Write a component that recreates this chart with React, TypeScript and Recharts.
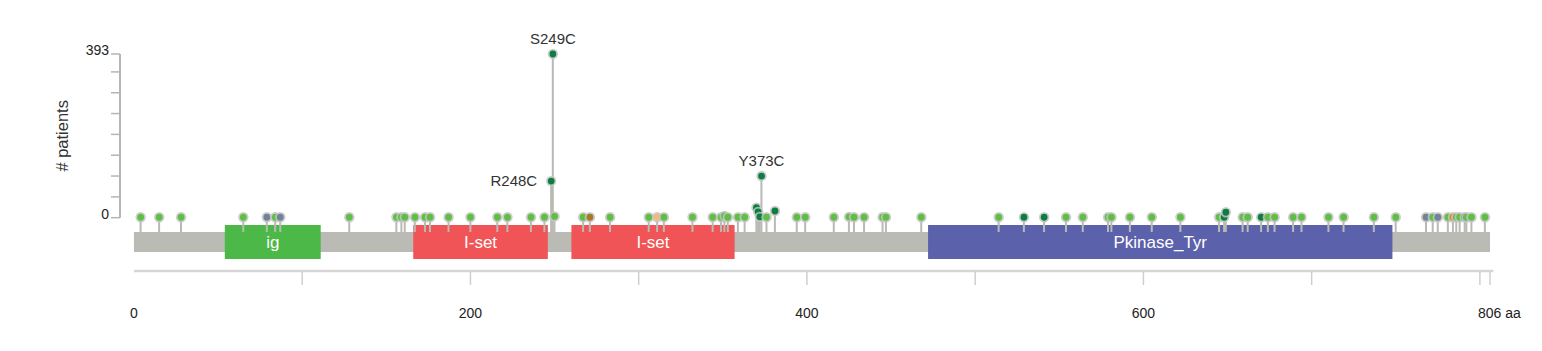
import React from 'react';
import {
  Bar,
  ComposedChart,
  ReferenceArea,
  ReferenceLine,
  Scatter,
  XAxis,
  YAxis,
} from 'recharts';

// Mutation positions (aa), patient counts and mutation class
const positions = [
  4, 15, 28, 65, 79, 84, 87, 128, 156, 159, 161, 167, 173, 176, 187, 200, 216, 222, 236, 244,
  248, 249, 250, 267, 271, 283, 306, 311, 315, 332, 344, 349, 351, 353, 359, 363, 370, 371, 372,
  373, 376, 381, 394, 399, 416, 425, 428, 434, 445, 447, 468, 514, 529, 541, 554, 564, 579, 581,
  592, 605, 622, 645, 648, 649, 659, 662, 670, 674, 678, 689, 694, 710, 719, 737, 750, 768, 772,
  775, 781, 784, 786, 788, 791, 792, 795, 803,
];
const counts = [
  1, 1, 1, 1, 1, 1, 1, 1, 1, 1, 1, 1, 1, 1, 1, 1, 1, 1, 1, 1,
  88, 393, 3, 1, 1, 1, 1, 1, 1, 1, 1, 1, 4, 1, 1, 1, 24, 14, 2,
  100, 1, 16, 1, 1, 1, 2, 1, 1, 1, 1, 1, 1, 1, 1, 1, 1, 1, 1,
  1, 1, 1, 1, 1, 13, 1, 1, 1, 1, 1, 1, 1, 1, 1, 1, 1, 1, 1,
  1, 1, 1, 1, 1, 1, 1, 1, 1,
];
const types = [
  'mis', 'mis', 'mis', 'mis', 'trc', 'mis', 'trc', 'mis', 'mis', 'mis', 'mis', 'mis', 'mis', 'mis', 'mis', 'mis', 'mis', 'mis', 'mis', 'mis',
  'drv', 'drv', 'mis', 'mis', 'inf', 'mis', 'mis', 'spl', 'mis', 'mis', 'mis', 'mis', 'mis', 'mis', 'mis', 'mis', 'drv', 'drv', 'drv',
  'drv', 'mis', 'drv', 'mis', 'mis', 'mis', 'mis', 'mis', 'mis', 'mis', 'mis', 'mis', 'mis', 'drv', 'drv', 'mis', 'mis', 'mis', 'mis',
  'mis', 'mis', 'mis', 'mis', 'drv', 'drv', 'mis', 'mis', 'drv', 'mis', 'mis', 'mis', 'mis', 'mis', 'mis', 'mis', 'mis', 'trc', 'mis',
  'trc', 'mis', 'oth', 'mis', 'mis', 'drv', 'mis', 'mis', 'mis',
];

const hotspotPositions = [248, 249, 373];
const hotspotNames = ['R248C', 'S249C', 'Y373C'];

// Protein domains (aa)
const domainNames = ['ig', 'I-set', 'I-set', 'Pkinase_Tyr'];
const domainStarts = [54, 166, 260, 472];
const domainEnds = [111, 246, 357, 748];

const PROTEIN_LENGTH = 806;
const xTicks = [0, 100, 200, 300, 400, 500, 600, 700, 800, 806];
const xLabels = [0, 200, 400, 600, 806];
const yTicks = [0, 50, 100, 150, 200, 250, 300, 350, 393];
const Y_MAX = 393;

const typeColors: Record<string, string> = {
  mis: '#5fbf45',
  drv: '#0a7f3f',
  trc: '#71829a',
  inf: '#a5782a',
  spl: '#f3b87e',
  oth: '#e0892e',
};
const domainColors: Record<string, string> = {
  ig: '#4cb848',
  'I-set': '#f05456',
  Pkinase_Tyr: '#5b61aa',
};
const labelSide: Record<string, string> = { R248C: 'left', S249C: 'top', Y373C: 'top' };

// layout in data units
const Y_MIN = -128;
const X_MIN = -8.3;
const STEM_BASE = -34.3;
const BAR_TOP = -34.3;
const BAR_BOTTOM = -82.3;
const DOMAIN_TOP = -17.5;
const DOMAIN_BOTTOM = -99.2;

const FONT = 'Arial, "Liberation Sans", Helvetica, sans-serif';

const mutations = positions.map((pos, i) => {
  const h = hotspotPositions.indexOf(pos);
  return {
    pos,
    count: counts[i],
    type: types[i],
    label: h >= 0 ? hotspotNames[h] : null,
  };
});

const Stem = (props: any) => {
  const { x, y, width, height } = props;
  if (height == null) return null;
  return <rect x={x + width / 2 - 1} y={y} width={2} height={height} fill="#b9bab4" />;
};

const Head = (props: any) => {
  const { cx, cy, payload } = props;
  const side = payload.label ? labelSide[payload.label] : null;
  return (
    <g>
      <circle cx={cx} cy={cy} r={5.2} fill="#c4c4c4" fillOpacity={0.85} />
      <circle cx={cx} cy={cy} r={3.4} fill={typeColors[payload.type]} />
      {side === 'top' && (
        <text x={cx} y={cy - 15} dy="0.35em" textAnchor="middle" fontSize={15} fill="#333" fontFamily={FONT}>
          {payload.label}
        </text>
      )}
      {side === 'left' && (
        <text x={cx - 14} y={cy} dy="0.35em" textAnchor="end" fontSize={15} fill="#333" fontFamily={FONT}>
          {payload.label}
        </text>
      )}
    </g>
  );
};

const XTick = (props: any) => {
  const { x, y, payload } = props;
  const v = payload.value;
  return (
    <g>
      {v !== 0 && <line x1={x} x2={x} y1={y} y2={y + 14} stroke="#cfcfcf" strokeWidth={1.5} />}
      {xLabels.includes(v) && v !== PROTEIN_LENGTH && (
        <text x={x} y={y + 42} dy="0.35em" textAnchor="middle" fontSize={14} fill="#222" fontFamily={FONT}>
          {v}
        </text>
      )}
      {v === PROTEIN_LENGTH && (
        <text x={x - 12} y={y + 42} dy="0.35em" textAnchor="start" fontSize={14} fill="#222" fontFamily={FONT}>
          {`${v} aa`}
        </text>
      )}
    </g>
  );
};

const YTick = (props: any) => {
  const { x, y, payload } = props;
  const v = payload.value;
  if (v !== 0 && v !== Y_MAX) return null;
  return (
    <text x={x} y={y - 3.5} dy="0.35em" textAnchor="end" fontSize={14} fill="#222" fontFamily={FONT}>
      {v}
    </text>
  );
};

const YTitle = (props: any) => {
  const vb = props.viewBox || {};
  const cx = vb.x - 58;
  const cy = vb.y + vb.height / 2;
  return (
    <text
      x={cx}
      y={cy}
      dy="0.35em"
      textAnchor="middle"
      fontSize={16.5}
      fill="#333"
      fontFamily={FONT}
      transform={`rotate(-90 ${cx} ${cy})`}
    >
      # patients
    </text>
  );
};

const App = () => {
  return (
    <div style={{ width: 1526, height: 335 }}>
      <ComposedChart
        width={1526}
        height={335}
        data={mutations}
        margin={{ top: 46, right: 44, left: 0, bottom: 0 }}
      >
        <XAxis
          type="number"
          dataKey="pos"
          domain={[X_MIN, PROTEIN_LENGTH]}
          ticks={xTicks}
          interval={0}
          axisLine={false}
          tickLine={false}
          tickSize={0}
          tickMargin={0}
          height={72}
          tick={<XTick />}
        />
        <YAxis
          type="number"
          domain={[Y_MIN, Y_MAX]}
          ticks={yTicks}
          interval={0}
          width={112}
          axisLine={false}
          tickLine={{ stroke: '#b5b5b5', strokeWidth: 1.5 }}
          tickSize={9}
          tickMargin={2}
          tick={<YTick />}
        />
        <ReferenceArea
          x1={0}
          x2={PROTEIN_LENGTH}
          y1={BAR_BOTTOM}
          y2={BAR_TOP}
          fill="#babbb4"
          fillOpacity={1}
          stroke="none"
          ifOverflow="visible"
        />
        {domainNames.map((name, i) => (
          <ReferenceArea
            key={`${name}-${i}`}
            x1={domainStarts[i]}
            x2={domainEnds[i]}
            y1={DOMAIN_BOTTOM}
            y2={DOMAIN_TOP}
            fill={domainColors[name]}
            fillOpacity={1}
            stroke="none"
            ifOverflow="visible"
            label={{ value: name, position: 'center', fill: '#fff', fontSize: 17, fontFamily: FONT }}
          />
        ))}
        <ReferenceLine
          segment={[
            { x: 0, y: Y_MIN },
            { x: PROTEIN_LENGTH + 2, y: Y_MIN },
          ]}
          stroke="#d6d6d6"
          strokeWidth={2.5}
          ifOverflow="visible"
        />
        <ReferenceLine
          segment={[
            { x: X_MIN, y: 0 },
            { x: X_MIN, y: Y_MAX },
          ]}
          stroke="#b5b5b5"
          strokeWidth={2}
          ifOverflow="visible"
          label={<YTitle />}
        />
        <Bar
          dataKey={(d: any) => [STEM_BASE, d.count]}
          barSize={2}
          shape={<Stem />}
          isAnimationActive={false}
        />
        <Scatter dataKey="count" shape={<Head />} isAnimationActive={false} />
      </ComposedChart>
    </div>
  );
};

export default App;
